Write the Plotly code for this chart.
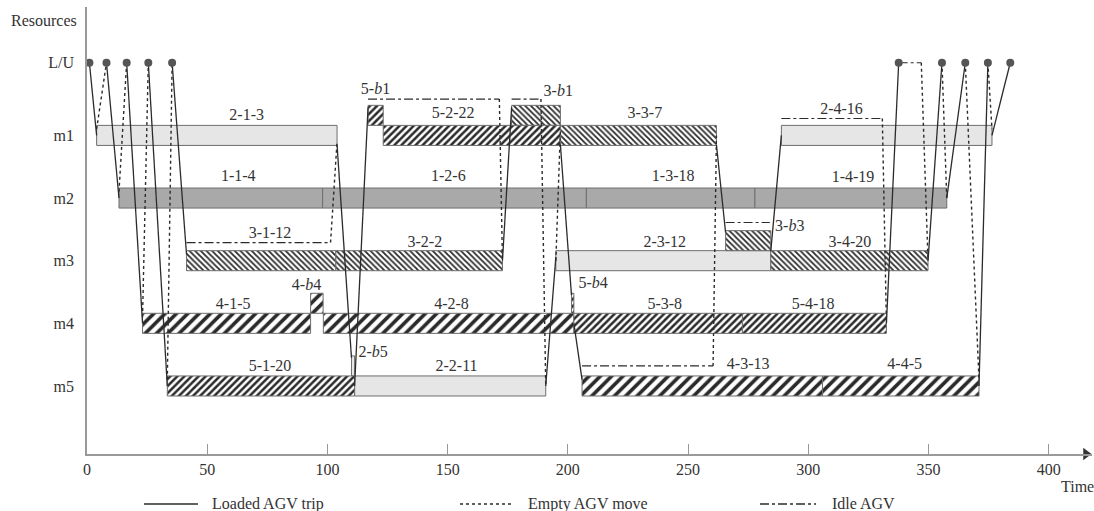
import plotly.graph_objects as go

# ---------------- data ----------------
row_names = ["m5", "m4", "m3", "m2", "m1", "L/U"]
row_pos = [1, 2, 3, 4, 5, 6.16]
ROW = dict(zip(row_names, row_pos))

# machine operations (label = job-operation-duration)
op_labels = ["2-1-3", "5-2-22", "3-3-7", "2-4-16",
             "1-1-4", "1-2-6", "1-3-18", "1-4-19",
             "3-1-12", "3-2-2", "2-3-12", "3-4-20",
             "4-1-5", "4-2-8", "5-3-8", "5-4-18",
             "5-1-20", "2-2-11", "4-3-13", "4-4-5"]
op_machine = ["m1"] * 4 + ["m2"] * 4 + ["m3"] * 4 + ["m4"] * 4 + ["m5"] * 4
op_start = [4, 123.2, 196.9, 288.8,
            13.3, 98, 207.7, 277.8,
            41.4, 103.5, 195, 284.4,
            23.1, 98.3, 202.5, 272.6,
            33.4, 111.3, 205.9, 305.9]
op_end = [104, 196.9, 261.8, 376.4,
          98, 207.7, 277.8, 357.6,
          103.5, 172.8, 284.4, 349.8,
          93, 202.5, 272.6, 332.5,
          111.3, 190.8, 305.9, 371]
op_label_x = [66.4, 152.3, 232, 313.8,
              62.9, 150.3, 243.8, 318.6,
              76.1, 140.5, 240.3, 317.3,
              60.8, 151.6, 240.3, 302,
              76.1, 153.7, 275, 340.1]
op_label_dy = [0.31, 0.34, 0.34, 0.41,
               0.34, 0.34, 0.34, 0.32,
               0.43, 0.29, 0.29, 0.29,
               0.29, 0.29, 0.29, 0.29,
               0.31, 0.31, 0.34, 0.34]

# buffer (waiting) blocks
buf_labels = ["5-<i>b</i>1", "3-<i>b</i>1", "3-<i>b</i>3", "4-<i>b</i>4", "5-<i>b</i>4", "2-<i>b</i>5"]
buf_job = [5, 3, 3, 4, 5, 2]
buf_machine = ["m1", "m1", "m3", "m4", "m4", "m5"]
buf_start = [116.9, 176.6, 265.6, 93, 201.5, 110]
buf_end = [123.2, 196.9, 284.4, 98.2, 202.5, 111.3]
buf_label_x = [120, 196, 292.3, 91.3, 210.5, 119]
buf_label_dy = [0.73, 0.70, 0.53, 0.59, 0.63, 0.53]

# AGV route: (time, resource, offset) -> (time, resource, offset)
loaded_trips = [
    ((1, "L/U", 0), (4, "m1", 0)),
    ((8.1, "L/U", 0), (13.3, "m2", 0)),
    ((16.5, "L/U", 0), (23.1, "m4", 0)),
    ((25.5, "L/U", 0), (33.4, "m5", 0)),
    ((35.4, "L/U", 0), (41.4, "m3", 0.1)),
    ((104, "m1", -0.15), (110, "m5", 0.45)),
    ((111.3, "m5", 0), (116.9, "m1", 0.45)),
    ((172.8, "m3", 0), (176.6, "m1", 0.45)),
    ((190.8, "m5", 0), (195, "m3", 0.06)),
    ((196.9, "m1", -0.15), (201.5, "m4", 0.45)),
    ((202.5, "m4", 0), (205.9, "m5", 0.1)),
    ((261.8, "m1", -0.15), (265.6, "m3", 0.45)),
    ((284.4, "m3", 0.15), (288.8, "m1", 0)),
    ((332.5, "m4", 0), (337.6, "L/U", 0)),
    ((349.8, "m3", 0), (355.6, "L/U", 0)),
    ((357.6, "m2", 0), (365.3, "L/U", 0)),
    ((371, "m5", 0), (374.7, "L/U", 0)),
    ((376.4, "m1", 0), (384, "L/U", 0)),
]
empty_moves = [
    ((4, "m1", 0.1), (8.1, "L/U", 0)),
    ((13.3, "m2", 0.1), (16.5, "L/U", 0)),
    ((23.1, "m4", 0.1), (25.5, "L/U", 0)),
    ((33.4, "m5", 0.1), (35.4, "L/U", 0)),
    ((101.3, "m3", 0.29), (104, "m1", -0.1)),
    ((171.5, "m1", 0.58), (172.8, "m3", 0)),
    ((188.8, "m1", 0.58), (190.8, "m5", 0)),
    ((195, "m3", 0), (196.9, "m1", 0.1)),
    ((260.4, "m5", 0.32), (261.8, "m1", 0)),
    ((330.8, "m1", 0.27), (332.5, "m4", 0)),
    ((347, "L/U", 0), (349.8, "m3", 0)),
    ((355.6, "L/U", 0), (357.6, "m2", 0)),
    ((365.3, "L/U", 0), (371, "m5", 0.1)),
    ((374.7, "L/U", 0), (376.4, "m1", 0.1)),
]
idle_periods = [
    (41.4, 101.3, "m3", 0.29),
    (116.9, 171.5, "m1", 0.58),
    (176.6, 188.8, "m1", 0.58),
    (205.9, 260.4, "m5", 0.32),
    (265.6, 284.0, "m3", 0.61),
    (288.8, 330.8, "m1", 0.27),
    (337.6, 347.0, "L/U", 0),
]
lu_visits = [1, 8.1, 16.5, 25.5, 35.4, 337.6, 355.6, 365.3, 374.7, 384]

x_ticks = [0, 50, 100, 150, 200, 250, 300, 350, 400]
legend_names = ["Loaded AGV trip", "Empty AGV move", "Idle AGV"]

# ---------------- styling ----------------
FONT = "Liberation Serif"
TXT = "#333333"
LINE = "#2b2b2b"
BAR_H = 0.32
job_style = {
    1: dict(color="#a9a9a9", pattern=None),
    2: dict(color="#e6e6e6", pattern=None),
    3: dict(color="white", pattern=dict(shape="\\", size=4, solidity=0.45)),
    4: dict(color="white", pattern=dict(shape="/", size=8, solidity=0.45)),
    5: dict(color="white", pattern=dict(shape="/", size=5, solidity=0.5)),
}

fig = go.Figure()


def add_bars(starts, ends, ys, job):
    st = job_style[job]
    marker = dict(color=st["color"], line=dict(color="#6e6e6e", width=1))
    if st["pattern"]:
        marker["pattern"] = dict(shape=st["pattern"]["shape"], size=st["pattern"]["size"],
                                 solidity=st["pattern"]["solidity"], fgcolor="#2a2a2a",
                                 bgcolor="white", fillmode="replace")
    fig.add_trace(go.Bar(orientation="h", base=starts,
                         x=[e - s for s, e in zip(starts, ends)], y=ys,
                         width=BAR_H, marker=marker, showlegend=False, hoverinfo="skip"))


for job in [1, 2, 3, 4, 5]:
    s = [op_start[i] for i in range(len(op_labels)) if int(op_labels[i][0]) == job]
    e = [op_end[i] for i in range(len(op_labels)) if int(op_labels[i][0]) == job]
    y = [ROW[op_machine[i]] for i in range(len(op_labels)) if int(op_labels[i][0]) == job]
    if s:
        add_bars(s, e, y, job)
    s = [buf_start[i] for i in range(len(buf_labels)) if buf_job[i] == job]
    e = [buf_end[i] for i in range(len(buf_labels)) if buf_job[i] == job]
    y = [ROW[buf_machine[i]] + BAR_H for i in range(len(buf_labels)) if buf_job[i] == job]
    if s:
        add_bars(s, e, y, job)


def seg_xy(segs):
    xs, ys = [], []
    for (t0, r0, d0), (t1, r1, d1) in segs:
        xs += [t0, t1, None]
        ys += [ROW[r0] + d0, ROW[r1] + d1, None]
    return xs, ys


xs, ys = seg_xy(loaded_trips)
fig.add_trace(go.Scatter(x=xs, y=ys, mode="lines", line=dict(color=LINE, width=1.3),
                         showlegend=False, hoverinfo="skip"))
xs, ys = seg_xy(empty_moves)
fig.add_trace(go.Scatter(x=xs, y=ys, mode="lines", line=dict(color=LINE, width=1.4, dash="dot"),
                         showlegend=False, hoverinfo="skip"))
xs, ys = [], []
for t0, t1, r, d in idle_periods:
    xs += [t0, t1, None]
    ys += [ROW[r] + d, ROW[r] + d, None]
fig.add_trace(go.Scatter(x=xs, y=ys, mode="lines", line=dict(color=LINE, width=1.2, dash="dashdot"),
                         showlegend=False, hoverinfo="skip"))

fig.add_trace(go.Scatter(x=lu_visits, y=[ROW["L/U"]] * len(lu_visits), mode="markers",
                         marker=dict(color="#555555", size=8), showlegend=False,
                         hoverinfo="skip", cliponaxis=False))

# labels
fig.add_trace(go.Scatter(
    x=op_label_x + buf_label_x,
    y=[ROW[m] + d for m, d in zip(op_machine, op_label_dy)] +
      [ROW[m] + d for m, d in zip(buf_machine, buf_label_dy)],
    text=op_labels + buf_labels, mode="text", textposition="middle center",
    textfont=dict(family=FONT, size=16, color=TXT), showlegend=False, hoverinfo="skip",
    cliponaxis=False))

# axis arrow head
X_MAX = 418
Y_MIN = -0.086
fig.add_trace(go.Scatter(x=[X_MAX - 2.5], y=[Y_MIN], mode="markers",
                         marker=dict(symbol="triangle-right", size=11, color="#333333"),
                         showlegend=False, hoverinfo="skip", cliponaxis=False))

# ---------------- layout ----------------
W, H = 1094, 511
ML, MR, MT, MB = 87, 2, 7, 57
PW, PH = W - ML - MR, H - MT - MB


def px(xp):
    return (xp - ML) / PW


def py(yp):
    return (H - MB - yp) / PH


annotations = [
    dict(text="Resources", x=px(44), y=py(20), xref="paper", yref="paper", showarrow=False,
         font=dict(family=FONT, size=16, color=TXT), xanchor="center", yanchor="middle"),
    dict(text="Time", x=px(1077), y=py(486), xref="paper", yref="paper", showarrow=False,
         font=dict(family=FONT, size=16, color=TXT), xanchor="center", yanchor="middle"),
]
shapes = []
leg_line_x = [(144, 198), (460, 512), (760, 816)]
leg_dash = ["solid", "dot", "dashdot"]
leg_text_x = [210, 526, 830]
for (a, b), dsh, tx, name in zip(leg_line_x, leg_dash, leg_text_x, legend_names):
    shapes.append(dict(type="line", xref="paper", yref="paper", x0=px(a), x1=px(b),
                       y0=py(504), y1=py(504), line=dict(color=LINE, width=1.3, dash=dsh)))
    annotations.append(dict(text=name, x=px(tx), y=py(504), xref="paper", yref="paper",
                            showarrow=False, xanchor="left", yanchor="middle",
                            font=dict(family=FONT, size=16, color=TXT)))

fig.update_layout(
    width=W, height=H, margin=dict(l=ML, r=MR, t=MT, b=MB),
    plot_bgcolor="white", paper_bgcolor="white", barmode="overlay",
    font=dict(family=FONT, size=16, color=TXT),
    xaxis=dict(range=[0, X_MAX], tickvals=x_ticks, ticktext=[str(v) for v in x_ticks],
               ticks="inside", ticklen=10, tickcolor="#999999", tickwidth=1.2,
               showline=True, linecolor="#999999", linewidth=1.5, showgrid=False,
               zeroline=False, tickfont=dict(family=FONT, size=16, color=TXT)),
    yaxis=dict(range=[Y_MIN, 7.05], tickvals=row_pos, ticktext=row_names, ticks="",
               showline=True, linecolor="#999999", linewidth=1.5, showgrid=False,
               zeroline=False, ticklabelstandoff=8,
               tickfont=dict(family=FONT, size=16, color=TXT)),
    annotations=annotations, shapes=shapes, showlegend=False,
)

fig.write_html("out.html", config={"displayModeBar": False},
               post_script="document.body.style.margin='0';document.body.style.padding='0';"
                           "document.body.style.overflow='hidden';")
